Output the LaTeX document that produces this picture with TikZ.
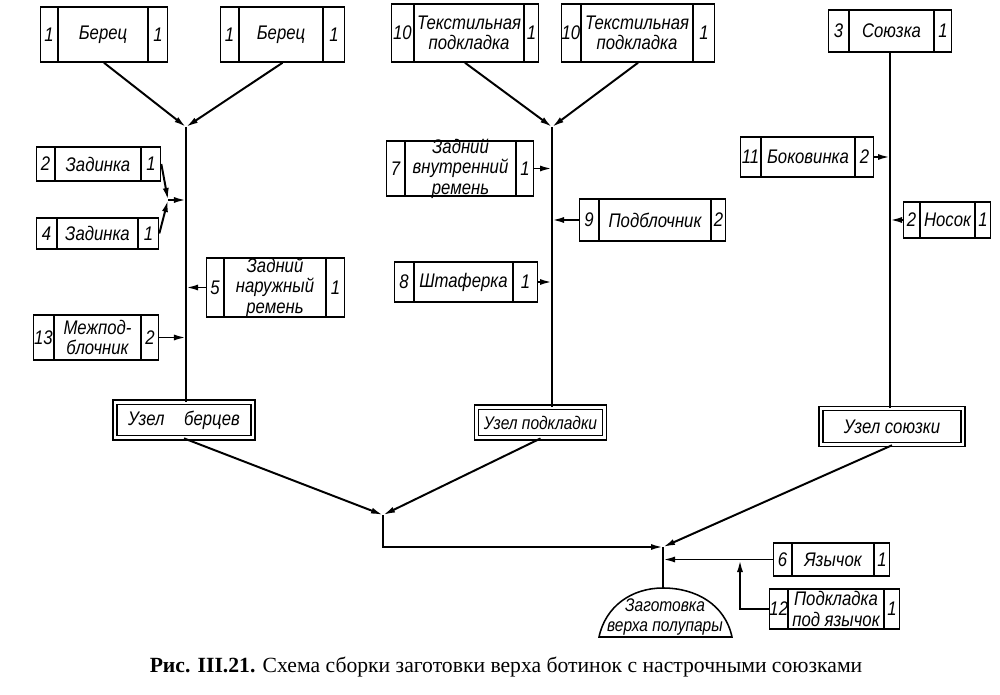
\documentclass[tikz,border=0pt]{standalone}
\usepackage{fontspec}
\setmainfont{Liberation Serif}
\newfontfamily\gost{Liberation Sans}[FakeStretch=0.85]
\usetikzlibrary{shapes.multipart,arrows.meta,calc}
\newlength\pxu
\setlength\pxu{0.025cm}
\newcommand\gostsize{\gost\itshape\fontsize{14}{14.5}\selectfont}
% three-cell part box: height, then width and text of each cell
\newcommand\detail[7]{%
  \parbox[c][#1\pxu][c]{#2\pxu}{\centering\gostsize #3}%
  \nodepart{two}\parbox[c][#1\pxu][c]{#4\pxu}{\centering\gostsize #5}%
  \nodepart{three}\parbox[c][#1\pxu][c]{#6\pxu}{\centering\gostsize #7}}

\begin{document}
\begin{tikzpicture}[x=0.025cm,y=-0.025cm,
  detail/.style={rectangle split,rectangle split horizontal,rectangle split parts=3,
    draw,line width=1.1pt,inner sep=0pt,font=\gostsize},
  unit/.style={draw,double,double distance=2pt,line width=1.1pt,inner sep=0pt,
    font=\gostsize},
  feed/.style={line width=1.4pt,-{Latex[length=3mm,width=1.5mm]}},
  trunk/.style={line width=1.8pt}]
\useasboundingbox (0,0) rectangle (1000,695);

% upper parts
\node[detail] (b1) at (104,34.5) {\detail{55}{17}{1}{88}{Берец}{19}{1}};
\node[detail] (b2) at (282.5,34.5) {\detail{55}{18}{1}{82}{Берец}{21}{1}};
\node[detail] (t1) at (465,33) {\detail{58}{22}{10}{108}{Текстильная\\подкладка}{14}{1}};
\node[detail] (t2) at (638,33) {\detail{58}{19}{10}{110}{Текстильная\\подкладка}{21}{1}};
\node[detail] (c3) at (890,31) {\detail{42}{20}{3}{83}{Союзка}{17}{1}};

% side parts
\node[detail] (z2) at (98.5,164) {\detail{34}{18}{2}{84}{Задинка}{19}{1}};
\node[detail] (z4) at (97.5,233.5) {\detail{31}{20}{4}{79}{Задинка}{20}{1}};
\node[detail] (r5) at (275.5,287.5) {\detail{59}{17}{5}{100}{Задний\\наружный\\ремень}{18}{1}};
\node[detail] (m13) at (96,337.5) {\detail{45}{20}{13}{85}{Межпод-\\блочник}{17}{2}};
\node[detail] (r7) at (460,168.5) {\detail{55}{18}{7}{109}{Задний\\внутренний\\ремень}{17}{1}};
\node[detail] (p9) at (652.5,220) {\detail{42}{19}{9}{110}{Подблочник}{14}{2}};
\node[detail] (s8) at (466,282) {\detail{40}{19}{8}{97}{Штаферка}{24}{1}};
\node[detail] (k11) at (807,157) {\detail{40}{20}{11}{92}{Боковинка}{18}{2}};
\node[detail] (n2) at (947,220) {\detail{36}{16}{2}{53}{Носок}{15}{1}};
\node[detail] (y6) at (831.5,559.5) {\detail{33}{18}{6}{80}{Язычок}{15}{1}};
\node[detail] (p12) at (834.5,609) {\detail{40}{18}{12}{94}{Подкладка\\под язычок}{15}{1}};

% assembly units
\node[unit,minimum width=3.45cm,minimum height=0.88cm] (u1) at (184,420) {Узел\quad берцев};
\node[unit,minimum width=3.2cm,minimum height=0.76cm,font=\gostsize\fontsize{13}{14}\selectfont]
  (u2) at (540.5,422.5) {Узел подкладки};
\node[unit,minimum width=3.55cm,minimum height=0.9cm] (u3) at (892,426.5) {Узел союзки};

\coordinate (j1) at (186,127);
\coordinate (j2) at (168,200);
\coordinate (j3) at (552,127);
\coordinate (j4) at (383,515);
\coordinate (j5) at (663,547);
\coordinate (j6) at (740,560);
\coordinate (top) at (663,588);

% blank
\draw[line width=1.1pt] (599,637) to[out=78,in=180] (top) to[out=0,in=102] (732,637) -- cycle;
\node[font=\gostsize\fontsize{13}{14}\selectfont,align=center] (blank) at (665,617)
  {Заготовка\\верха полупары};

\draw[feed] (b1.south) -- (j1);
\draw[feed] (b2.south) -- (j1);
\draw[feed] (t1.south) -- (j3);
\draw[feed] (t2.south) -- (j3);
\draw[trunk] (j1) -- (j1 |- u1.north);
\draw[trunk] (j3) -- (j3 |- u2.north);
\draw[trunk] (c3.south) -- (c3.south |- u3.north);
\draw[feed] (z2.east) -- (j2);
\draw[feed] (z4.east) -- (j2);
\draw[feed] (j2) -- (j2 -| j1);
\foreach \d/\s/\l in {r5/west/j1,m13/east/j1,r7/east/j3,p9/west/j3,s8/east/j3,
  k11/east/c3.south,n2/west/c3.south}
  \draw[feed] (\d.\s) -- (\d.\s -| \l);

\draw[feed] (u1.south) -- (j4);
\draw[feed] (u2.south) -- (j4);
\draw[feed] (j4) |- (j5);
\draw[feed] (u3.south) -- (j5);
\draw[feed] (y6.west) -- (y6.west -| j5);
\draw[feed] (p12.west) -| (j6);
\draw[trunk] (j5) -- (top);

\node[font=\fontsize{15.4}{17}\selectfont] (cap) at (506,667)
  {\textbf{Рис. III.21.} Схема сборки заготовки верха ботинок с настрочными союзками};
\end{tikzpicture}
\end{document}
